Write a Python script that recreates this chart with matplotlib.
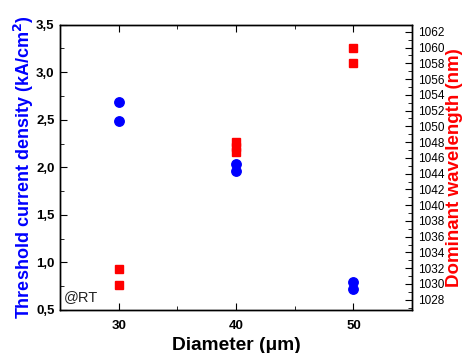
import matplotlib.pyplot as plt
from matplotlib.ticker import MultipleLocator, FuncFormatter

plt.rcParams['font.family'] = ['Liberation Sans', 'DejaVu Sans']

# threshold current density (kA/cm2), two devices per diameter
diam_j = [30, 30, 40, 40, 50, 50]
j_th = [2.69, 2.49, 2.04, 1.96, 0.79, 0.72]

# dominant wavelength (nm)
diam_wl = [30, 30, 40, 40, 40, 50, 50]
wavelength = [1031.9, 1029.9, 1048.0, 1047.4, 1046.8, 1059.9, 1058.0]

fig = plt.figure(figsize=(4.62, 3.53), dpi=100)
ax = fig.add_axes([0.130, 0.122, 0.762, 0.808])
ax2 = ax.twinx()

ax.plot(diam_j, j_th, 'o', color='#0000ff', markersize=6.8, zorder=3)
ax2.plot(diam_wl, wavelength, 's', color='#ff0000', markersize=5.5)

ax.set_xlim(25, 55)
ax.set_ylim(0.5, 3.5)
ax2.set_ylim(1026.7, 1062.9)

ax.xaxis.set_major_locator(MultipleLocator(10))
ax.xaxis.set_minor_locator(MultipleLocator(5))
ax.yaxis.set_major_locator(MultipleLocator(0.5))
ax.yaxis.set_minor_locator(MultipleLocator(0.25))
ax.yaxis.set_major_formatter(FuncFormatter(lambda v, p: ('%.1f' % v).replace('.', ',')))
ax2.yaxis.set_major_locator(MultipleLocator(2))
ax2.yaxis.set_minor_locator(MultipleLocator(1))

ax.tick_params(which='both', direction='in', top=True, right=False)
ax.tick_params(which='major', length=5, labelsize=9.5, pad=4)
ax.tick_params(axis='x', pad=7)
ax.tick_params(which='minor', length=3)
ax2.tick_params(which='both', direction='in')
ax2.tick_params(which='major', length=5, labelsize=8.5, pad=4)
ax2.tick_params(which='minor', length=3)
for lbl in ax.get_xticklabels() + ax.get_yticklabels():
    lbl.set_fontweight('bold')

ax.set_xlabel('Diameter (\u03bcm)', fontsize=13.8, fontweight='bold', labelpad=4)
ax.set_ylabel('Threshold current density (kA/cm$^\\mathbf{2}$)', fontsize=13,
              fontweight='bold', color='#0000ff', labelpad=0)
ax2.set_ylabel('Dominant wavelength (nm)', fontsize=13.5, fontweight='bold',
               color='#ff0000', labelpad=1)

ax.text(0.01, 0.03, '@RT', transform=ax.transAxes, fontsize=10.5, color='#222222')

for sp in list(ax.spines.values()) + list(ax2.spines.values()):
    sp.set_linewidth(1.0)

fig.savefig('out.png', dpi=100)
